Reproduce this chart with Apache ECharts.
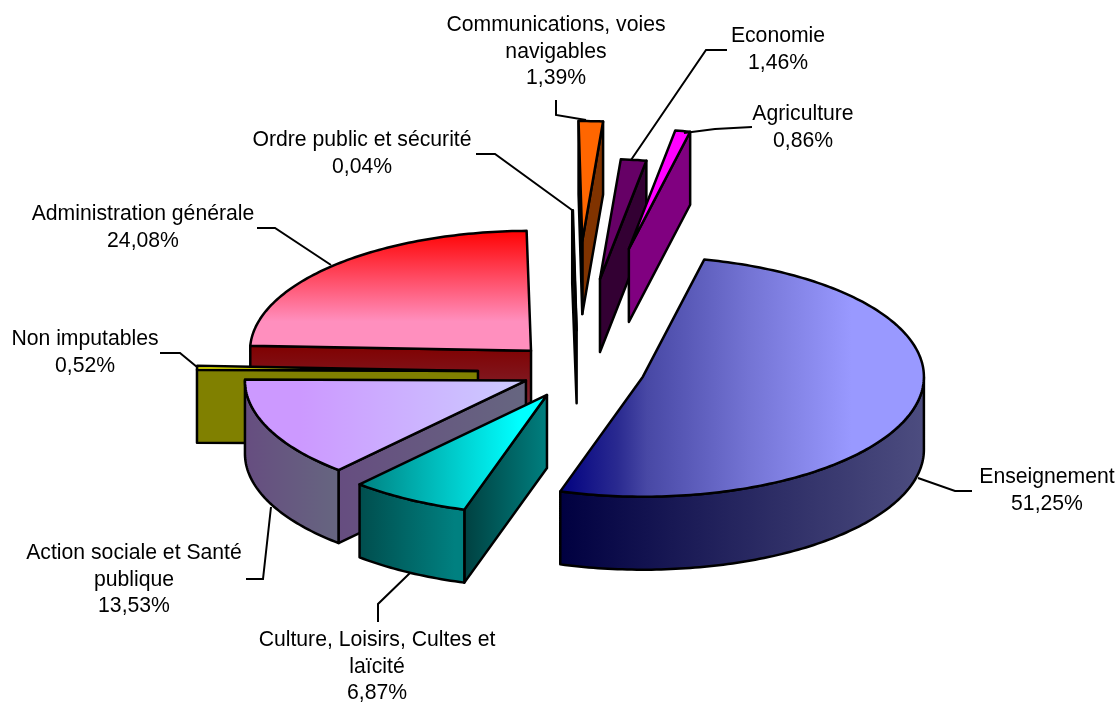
<!DOCTYPE html>
<html><head><meta charset="utf-8">
<style>html,body{margin:0;padding:0;background:#fff}#c{width:1120px;height:702px}</style>
<script src="https://cdn.jsdelivr.net/npm/echarts@6/dist/echarts.min.js"></script>
</head><body><div id="c"></div>
<script>
const categories = ['Enseignement','Culture, Loisirs, Cultes et\nlaïcité','Action sociale et Santé\npublique','Non imputables','Administration générale','Ordre public et sécurité','Communications, voies\nnavigables','Economie','Agriculture'];
const shares = [51.25,6.87,13.53,0.52,24.08,0.04,1.39,1.46,0.86];
const explosions = [0.25,0.21,0.1986,0.349,0.2345,0.34,1.083,0.772,1.037];

const PIE = {cx:576, cy:371, rx:281, ry:120, depth:73, startDeg:12.6};
const nudgeX = [-1,0,1,0,1,2,-3,-2,-3];
const nudgeY = [-2,2,0,1,0,0,0,0,0];
const drawOrder = [4,3,2,1,5,6,7,8,0];
const H = stops => new echarts.graphic.LinearGradient(0,0,1,0,stops.map(s=>({offset:s[0],color:s[1]})));
const V = stops => new echarts.graphic.LinearGradient(0,0,0,1,stops.map(s=>({offset:s[0],color:s[1]})));
const faces = [
 {top:H([[0,'#000080'],[0.16,'#2a2a90'],[0.24,'#4848a5'],[0.52,'#7474d4'],[0.8,'#9999FF'],[1,'#9999FF']]), cut:'#1a1a50', wall:H([[0,'#000040'],[1,'#4d4d80']])},
 {top:H([[0,'#008080'],[0.85,'#00FFFF'],[1,'#00FFFF']]), cut:H([[0,'#004040'],[1,'#008080']]), wall:H([[0,'#004d4d'],[0.9,'#008080'],[1,'#008080']])},
 {top:H([[0,'#CC99FF'],[0.2,'#CC99FF'],[1,'#CCCCFF']]), cut:H([[0,'#664d80'],[1,'#666680']]), wall:H([[0,'#664d80'],[1,'#666680']])},
 {top:'#FFFF00', cut:'#808000', wall:'#808000'},
 {top:V([[0,'#FF0000'],[0.75,'#FF8FBE'],[1,'#FF8FBE']]), cut:V([[0,'#800000'],[1,'#803344']]), wall:'#800000'},
 {top:'#808080', cut:'#404040', wall:'#404040'},
 {top:'#FF6600', cut:'#803300', wall:'#803300'},
 {top:'#660066', cut:'#330033', wall:'#330033'},
 {top:'#FF00FF', cut:'#800080', wall:'#800080'}
];
const labelLayout = [
 {x:1047,y:477,line:[[972,491],[955,491],[918,478]]},
 {x:377,y:640,line:[[378,622],[378,604],[410,573]]},
 {x:134,y:553,line:[[246,579],[263,579],[271,507]]},
 {x:85,y:339,line:[[160,353],[180,353],[197,367]]},
 {x:143,y:214,line:[[257,228],[275,228],[331,265]]},
 {x:362,y:140,line:[[476,154],[495,154],[572,210]]},
 {x:556,y:25,line:[[556,100],[556,115],[586,120]]},
 {x:778,y:36,line:[[727,50],[706,50],[631,160]]},
 {x:803,y:114,line:[[752,127],[715,129],[684,133]]}
];
const total = shares.reduce((a,b)=>a+b,0);
const cum = []; shares.reduce((a,b,i)=>{cum[i]=a;return a+b},0);
const pct = v => v.toFixed(2).replace('.',',')+'%';
const STROKE = {stroke:'#000',lineWidth:2.5,lineJoin:'round'};

function renderItem(params, api){
  const i = api.value(0), e = api.value(2);
  const a0 = PIE.startDeg + cum[i]/total*360, a1 = a0 + shares[i]/total*360, mid=(a0+a1)/2;
  const rad = d=>d*Math.PI/180;
  const ox = PIE.cx + e*PIE.rx*Math.sin(rad(mid)) + nudgeX[i], oy = PIE.cy - e*PIE.ry*Math.cos(rad(mid)) + nudgeY[i];
  const P = (d,dz)=>[ox+PIE.rx*Math.sin(rad(d)), oy-PIE.ry*Math.cos(rad(d))+(dz||0)];
  const apex=[ox,oy], apexB=[ox,oy+PIE.depth], M=P(mid);
  const arc=(from,to,dz)=>{const pts=[],n=Math.max(2,Math.ceil(Math.abs(to-from)));for(let k=0;k<=n;k++)pts.push(P(from+(to-from)*k/n,dz));return pts;};
  const order = params.dataIndex*10, f = faces[i], kids=[];
  const poly=(points,fill,z)=>kids.push({type:'polygon',shape:{points},style:Object.assign({fill},STROKE),z2:order+z});
  const cutFace=(a,z)=>{
    const q=P(a), dx=q[0]-ox, dy=q[1]-oy, mx=M[0]-ox, my=M[1]-oy;
    if(dx*(dx*my-dy*mx)<0) poly([apex,q,P(a,PIE.depth),apexB],f.cut,z);
  };
  cutFace(a1,1); cutFace(a0,2);
  const ws=Math.max(a0,90), we=Math.min(a1,270);
  if(we>ws) poly(arc(ws,we,0).concat(arc(we,ws,PIE.depth)),f.wall,3);
  poly([apex].concat(arc(a0,a1,0)),f.top,4);
  return {type:'group',children:kids};
}
const rows = drawOrder.map(i=>[i,shares[i],explosions[i]]);
const graphics = [];
categories.forEach((c,i)=>{
  const L=labelLayout[i];
  graphics.push({type:'polyline',z:5,shape:{points:L.line},style:{stroke:'#000',lineWidth:2,fill:null}});
  graphics.push({type:'text',z:6,x:L.x,y:L.y-13,style:{text:c+'\n'+pct(shares[i]),font:'21.2px "Liberation Sans", Arial, sans-serif',fill:'#000',align:'center',verticalAlign:'top',lineHeight:26.5}});
});
const chart = echarts.init(document.getElementById('c'),null,{renderer:'canvas'});
chart.setOption({
  animation:false, backgroundColor:'#fff',
  series:[{type:'custom',coordinateSystem:'none',renderItem,data:rows,silent:true,z:2}],
  graphic:{elements:graphics}
});
</script></body></html>
